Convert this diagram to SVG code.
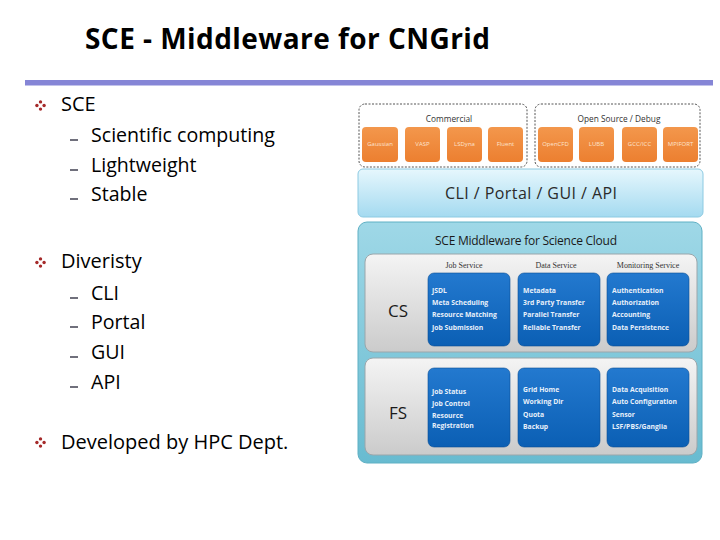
<svg xmlns="http://www.w3.org/2000/svg" width="720" height="540" viewBox="0 0 720 540">
<defs>
<linearGradient id="gOrange" x1="0" y1="0" x2="0" y2="1"><stop offset="0" stop-color="#f3974c"/><stop offset="1" stop-color="#ec7f30"/></linearGradient>
<linearGradient id="gCli" x1="0" y1="0" x2="0" y2="1"><stop offset="0" stop-color="#e6f7fd"/><stop offset="1" stop-color="#a4daf0"/></linearGradient>
<linearGradient id="gTeal" x1="0" y1="0" x2="0" y2="1"><stop offset="0" stop-color="#9fd8e7"/><stop offset="1" stop-color="#68bbd0"/></linearGradient>
<linearGradient id="gPanel" x1="0" y1="0" x2="0" y2="1"><stop offset="0" stop-color="#f4f4f4"/><stop offset="1" stop-color="#cbcbcb"/></linearGradient>
<linearGradient id="gBlue" x1="0" y1="0" x2="0" y2="1"><stop offset="0" stop-color="#2379cf"/><stop offset="1" stop-color="#0b5fb4"/></linearGradient>
<g id="bullet"><circle cx="0" cy="-3.6" r="1.7"/><circle cx="0" cy="3.6" r="1.7"/><circle cx="-3.6" cy="0" r="1.7"/><circle cx="3.6" cy="0" r="1.7"/></g>
</defs>
<style>
.title{font-family:"Open Sans","Noto Sans",sans-serif;font-weight:bold;font-size:28px;fill:#000}
.l1{font-family:"Open Sans","Noto Sans",sans-serif;font-size:20px;fill:#000}
.l2{font-family:"Open Sans","Noto Sans",sans-serif;font-size:19.6px;fill:#000}
.dash{stroke:#333344;stroke-width:1.4}
.bul{fill:#a52a2a}
.grp{fill:none;stroke:#555;stroke-width:1;stroke-dasharray:2 1.5}
.grpl{font-family:"Open Sans","Noto Sans",sans-serif;font-size:8.3px;fill:#333;text-anchor:middle}
.orange{fill:url(#gOrange)}
.olab{font-family:"Open Sans","Noto Sans",sans-serif;font-size:6px;fill:#fde3cf;text-anchor:middle}
.cli{fill:url(#gCli);stroke:#8ccae2;stroke-width:1}
.clit{font-family:"Open Sans","Noto Sans",sans-serif;font-size:16px;fill:#2a2a2a;text-anchor:middle}
.teal{fill:url(#gTeal);stroke:#5fb0c4;stroke-width:1}
.sct{font-family:"Open Sans","Noto Sans",sans-serif;font-size:12px;fill:#1a1a1a;text-anchor:middle}
.panel{fill:url(#gPanel);stroke:#9aa6ab;stroke-width:1}
.big{font-family:"Open Sans","Noto Sans",sans-serif;font-size:17px;fill:#1a1a1a;text-anchor:middle}
.hdr{font-family:"Liberation Serif","DejaVu Serif",serif;font-size:8px;fill:#333;text-anchor:middle}
.blue{fill:url(#gBlue);stroke:#0a4f96;stroke-width:0.6}
.bt{font-family:"Open Sans","Noto Sans",sans-serif;font-size:6.8px;font-weight:bold;fill:#e8f0fa}
</style>
<rect width="720" height="540" fill="#fff"/>

<g id="title">
<text class="title" x="85" y="49" textLength="405">SCE - Middleware for CNGrid</text>
<rect x="25" y="80" width="688" height="5.5" fill="#8585d6"/>
</g>

<g id="bullets">
<use href="#bullet" class="bul" x="40.5" y="105.5"/>
<text class="l1" x="61" y="111">SCE</text>
<line class="dash" x1="70" y1="140" x2="78" y2="140"/>
<text class="l2" x="91" y="142">Scientific computing</text>
<line class="dash" x1="70" y1="170" x2="78" y2="170"/>
<text class="l2" x="91" y="172">Lightweight</text>
<line class="dash" x1="70" y1="199" x2="78" y2="199"/>
<text class="l2" x="91" y="201">Stable</text>

<use href="#bullet" class="bul" x="40.5" y="262.5"/>
<text class="l1" x="61" y="268">Diveristy</text>
<line class="dash" x1="70" y1="298" x2="78" y2="298"/>
<text class="l2" x="91" y="300">CLI</text>
<line class="dash" x1="70" y1="327" x2="78" y2="327"/>
<text class="l2" x="91" y="329">Portal</text>
<line class="dash" x1="70" y1="357" x2="78" y2="357"/>
<text class="l2" x="91" y="359">GUI</text>
<line class="dash" x1="70" y1="387" x2="78" y2="387"/>
<text class="l2" x="91" y="389">API</text>

<use href="#bullet" class="bul" x="40.5" y="442.5"/>
<text class="l1" x="61" y="449">Developed by HPC Dept.</text>
</g>

<g id="commercial">
<rect class="grp" x="359" y="104" width="168" height="63" rx="6"/>
<text class="grpl" x="449" y="122">Commercial</text>
<rect class="orange" x="362" y="127" width="36" height="35" rx="4"/><text class="olab" x="380" y="146">Gaussian</text>
<rect class="orange" x="405" y="127" width="35" height="35" rx="4"/><text class="olab" x="422.5" y="146">VASP</text>
<rect class="orange" x="447" y="127" width="35" height="35" rx="4"/><text class="olab" x="464.5" y="146">LSDyna</text>
<rect class="orange" x="488" y="127" width="35" height="35" rx="4"/><text class="olab" x="505.5" y="146">Fluent</text>
</g>

<g id="opensource">
<rect class="grp" x="535" y="104" width="165" height="63" rx="6"/>
<text class="grpl" x="619" y="122">Open Source / Debug</text>
<rect class="orange" x="538" y="127" width="35" height="35" rx="4"/><text class="olab" x="555.5" y="146">OpenCFD</text>
<rect class="orange" x="579" y="127" width="35" height="35" rx="4"/><text class="olab" x="596.5" y="146">LUBB</text>
<rect class="orange" x="622" y="127" width="35" height="35" rx="4"/><text class="olab" x="639.5" y="146">GCC/ICC</text>
<rect class="orange" x="663" y="127" width="35" height="35" rx="4"/><text class="olab" x="680.5" y="146">MPIFORT</text>
</g>

<g id="cli">
<rect class="cli" x="358" y="169" width="345" height="48" rx="5"/>
<text class="clit" x="531" y="199" textLength="172">CLI  /  Portal  /  GUI  /  API</text>
</g>

<g id="sce-cloud">
<rect class="teal" x="358" y="222" width="344" height="241" rx="9"/>
<text class="sct" x="526" y="245" textLength="182">SCE Middleware for Science Cloud</text>
</g>

<g id="cs">
<rect class="panel" x="365" y="254" width="332" height="98" rx="8"/>
<text class="big" x="398" y="317">CS</text>
<text class="hdr" x="464" y="268">Job Service</text>
<text class="hdr" x="556" y="268">Data Service</text>
<text class="hdr" x="648" y="268">Monitoring Service</text>
<rect class="blue" x="428" y="273" width="82" height="73" rx="6"/>
<text class="bt" x="432" y="292.5">JSDL</text>
<text class="bt" x="432" y="304.5">Meta Scheduling</text>
<text class="bt" x="432" y="317">Resource Matching</text>
<text class="bt" x="432" y="330">Job Submission</text>
<rect class="blue" x="518" y="273" width="82" height="73" rx="6"/>
<text class="bt" x="523" y="292.5">Metadata</text>
<text class="bt" x="523" y="304.5">3rd Party Transfer</text>
<text class="bt" x="523" y="317">Parallel Transfer</text>
<text class="bt" x="523" y="330">Reliable Transfer</text>
<rect class="blue" x="607" y="273" width="82" height="73" rx="6"/>
<text class="bt" x="612" y="292.5">Authentication</text>
<text class="bt" x="612" y="304.5">Authorization</text>
<text class="bt" x="612" y="317">Accounting</text>
<text class="bt" x="612" y="330">Data Persistence</text>
</g>

<g id="fs">
<rect class="panel" x="365" y="358" width="332" height="97" rx="8"/>
<text class="big" x="398" y="419">FS</text>
<rect class="blue" x="428" y="368" width="82" height="79" rx="6"/>
<text class="bt" x="432" y="393.5">Job Status</text>
<text class="bt" x="432" y="405.5">Job Control</text>
<text class="bt" x="432" y="418">Resource</text>
<text class="bt" x="432" y="427.5">Registration</text>
<rect class="blue" x="518" y="368" width="82" height="79" rx="6"/>
<text class="bt" x="523" y="391.5">Grid Home</text>
<text class="bt" x="523" y="404">Working Dir</text>
<text class="bt" x="523" y="416.5">Quota</text>
<text class="bt" x="523" y="429">Backup</text>
<rect class="blue" x="607" y="368" width="82" height="79" rx="6"/>
<text class="bt" x="612" y="391.5">Data Acquisition</text>
<text class="bt" x="612" y="404">Auto Configuration</text>
<text class="bt" x="612" y="416.5">Sensor</text>
<text class="bt" x="612" y="429">LSF/PBS/Ganglia</text>
</g>
</svg>
